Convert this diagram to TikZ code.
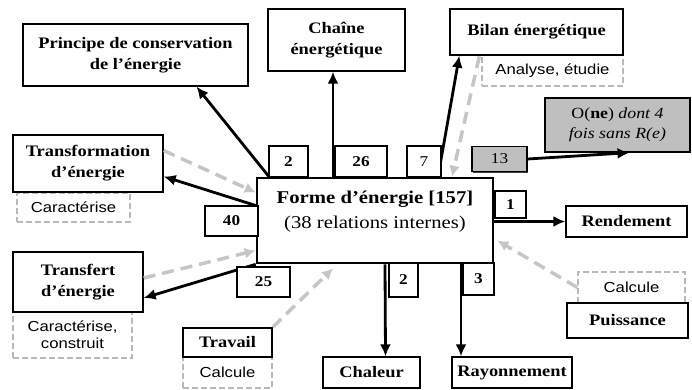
\documentclass[tikz,border=0pt]{standalone}
\usepackage{fontspec}
\setmainfont[FakeStretch=1.15]{Liberation Serif}
\setsansfont[FakeStretch=1.15]{Liberation Sans}
\usetikzlibrary{arrows.meta,shadows}

\begin{document}
\begin{tikzpicture}[
		x = 1pt,
		y = -1pt,
		box/.style = {
			draw,
			fill = white,
			line width = 1.3pt,
			inner sep = 0pt,
			align = center,
			font = \bfseries\fontsize{16}{21}\selectfont,
			drop shadow = {shadow xshift=1.3pt, shadow yshift=-1.3pt, fill=black!75, opacity=1}
		},
		dbox/.style = {
			draw = gray!55,
			dash pattern = on 6pt off 3pt,
			line width = 1.3pt,
			fill = white,
			inner sep = 0pt,
			align = center,
			font = \sffamily\fontsize{14.5}{17}\selectfont
		},
		num/.style = {
			box,
			font = \fontsize{15}{18}\selectfont
		},
		arr/.style = {
			line width = 2.8pt,
			-{Latex[length=12pt, width=11pt]}
		},
		garr/.style = {
			draw = gray!45,
			line width = 3.5pt,
			dash pattern = on 12pt off 7pt,
			-{Latex[length=11pt, width=11pt]}
		}
	]
	\useasboundingbox (0,0) rectangle (692,389);

	% dashed boxes (verbs)
	\node [dbox, minimum width=141pt, minimum height=31pt] (analyse) at (552.5,70.5) {Analyse, étudie};
	\node [dbox, minimum width=113pt, minimum height=29pt] (caract) at (73.5,207.5) {Caractérise};
	\node [dbox, minimum width=119pt, minimum height=46pt] (caractc) at (72.5,335) {Caractérise,\\construit};
	\node [dbox, minimum width=89pt, minimum height=31pt] (calctrav) at (227.5,372.5) {Calcule};
	\node [dbox, minimum width=107pt, minimum height=31pt] (calcpuis) at (631.5,287.5) {Calcule};

	% outer boxes
	\node [box, minimum width=225pt, minimum height=62pt] (principe) at (135.5,55) {Principe de conservation\\de l’énergie};
	\node [box, minimum width=137pt, minimum height=62pt] (chaine) at (336.5,40) {Chaîne\\énergétique};
	\node [box, minimum width=173pt, minimum height=46pt] (bilan) at (536.5,32) {Bilan énergétique};
	\node [box, fill=black!25, minimum width=145pt, minimum height=54pt, font=\fontsize{15.5}{20}\selectfont] (one) at (617.5,125) {O(\textbf{ne}) \textit{dont 4}\\\textit{fois sans R(e)}};
	\node [box, minimum width=150pt, minimum height=57pt] (transfo) at (88,163.5) {Transformation\\d’énergie};
	\node [box, minimum width=130pt, minimum height=60pt] (transfert) at (78,282) {Transfert\\d’énergie};
	\node [box, minimum width=89pt, minimum height=29pt] (travail) at (227.5,342.5) {Travail};
	\node [box, minimum width=97pt, minimum height=31pt] (chaleur) at (371.5,372.5) {Chaleur};
	\node [box, minimum width=120pt, minimum height=31pt] (rayon) at (512,372.5) {Rayonnement};
	\node [box, minimum width=121pt, minimum height=31pt] (rendement) at (626.5,221.5) {Rendement};
	\node [box, minimum width=121pt, minimum height=35pt] (puissance) at (627.5,320.5) {Puissance};

	% central box
	\node [box, line width=2.6pt, minimum width=236pt, minimum height=85pt] (forme) at (375,220.5) {};
	\node [align=center, font=\fontsize{18}{25}\selectfont] (formetxt) at (375,212) {\textbf{Forme d’énergie [157]}\\(38 relations internes)};

	% links out of the central box
	\draw [arr] ([xshift=-106pt]forme.north) -- ([xshift=61pt]principe.south);
	\draw [arr] ([xshift=-42pt]forme.north) -- ([xshift=-3.5pt]chaine.south);
	\draw [arr] ([xshift=63pt]forme.north) -- ([xshift=10pt]bilan.south west);
	\draw [arr] (forme.east |- rendement.west) -- (rendement.west);
	\draw [arr] ([xshift=10pt]forme.south) -- ([xshift=14pt]chaleur.north);
	\draw [arr] ([xshift=86pt]forme.south) -- ([xshift=-51pt]rayon.north);
	\draw [arr] (forme.south west) -- ([yshift=-16pt]transfert.east);
	\draw [arr] ([yshift=15pt]forme.west) -- ([yshift=-13pt]transfo.east);

	% links into the central box
	\draw [garr] ([xshift=-2pt,yshift=-2pt]analyse.north west) -- ([xshift=77pt]forme.north);
	\draw [garr] (calcpuis.west) -- ([xshift=3pt,yshift=-20pt]forme.east);
	\draw [garr] (travail.north east) -- ([xshift=-42pt,yshift=-4pt]forme.south);
	\draw [garr] ([yshift=4pt]transfert.east) -- ([yshift=-30pt]forme.west);
	\draw [garr] ([yshift=13pt]transfo.east) -- ([yshift=28pt]forme.west);

	% counts
	\node [num, minimum width=39pt, minimum height=31pt] (n2a) at (288.5,161.5) {\textbf{2}};
	\node [num, minimum width=52pt, minimum height=31pt] (n26) at (361,161.5) {\textbf{26}};
	\node [num, minimum width=34pt, minimum height=31pt] (n7) at (424,161.5) {7};
	\node [num, fill=black!25, minimum width=55pt, minimum height=25pt] (n13) at (499.5,159) {13};
	\node [num, minimum width=31pt, minimum height=27pt] (n1) at (510.5,204.5) {\textbf{1}};
	\node [num, minimum width=53pt, minimum height=30pt] (n40) at (231.5,221) {\textbf{40}};
	\node [num, minimum width=53pt, minimum height=30pt] (n25) at (263.5,282) {\textbf{25}};
	\node [num, minimum width=29pt, minimum height=34pt] (n2b) at (403.5,280) {\textbf{2}};
	\node [num, minimum width=31pt, minimum height=32pt] (n3) at (478.5,279) {\textbf{3}};

	\draw [arr] (n13.east) -- ([xshift=12pt]one.south);
\end{tikzpicture}
\end{document}
